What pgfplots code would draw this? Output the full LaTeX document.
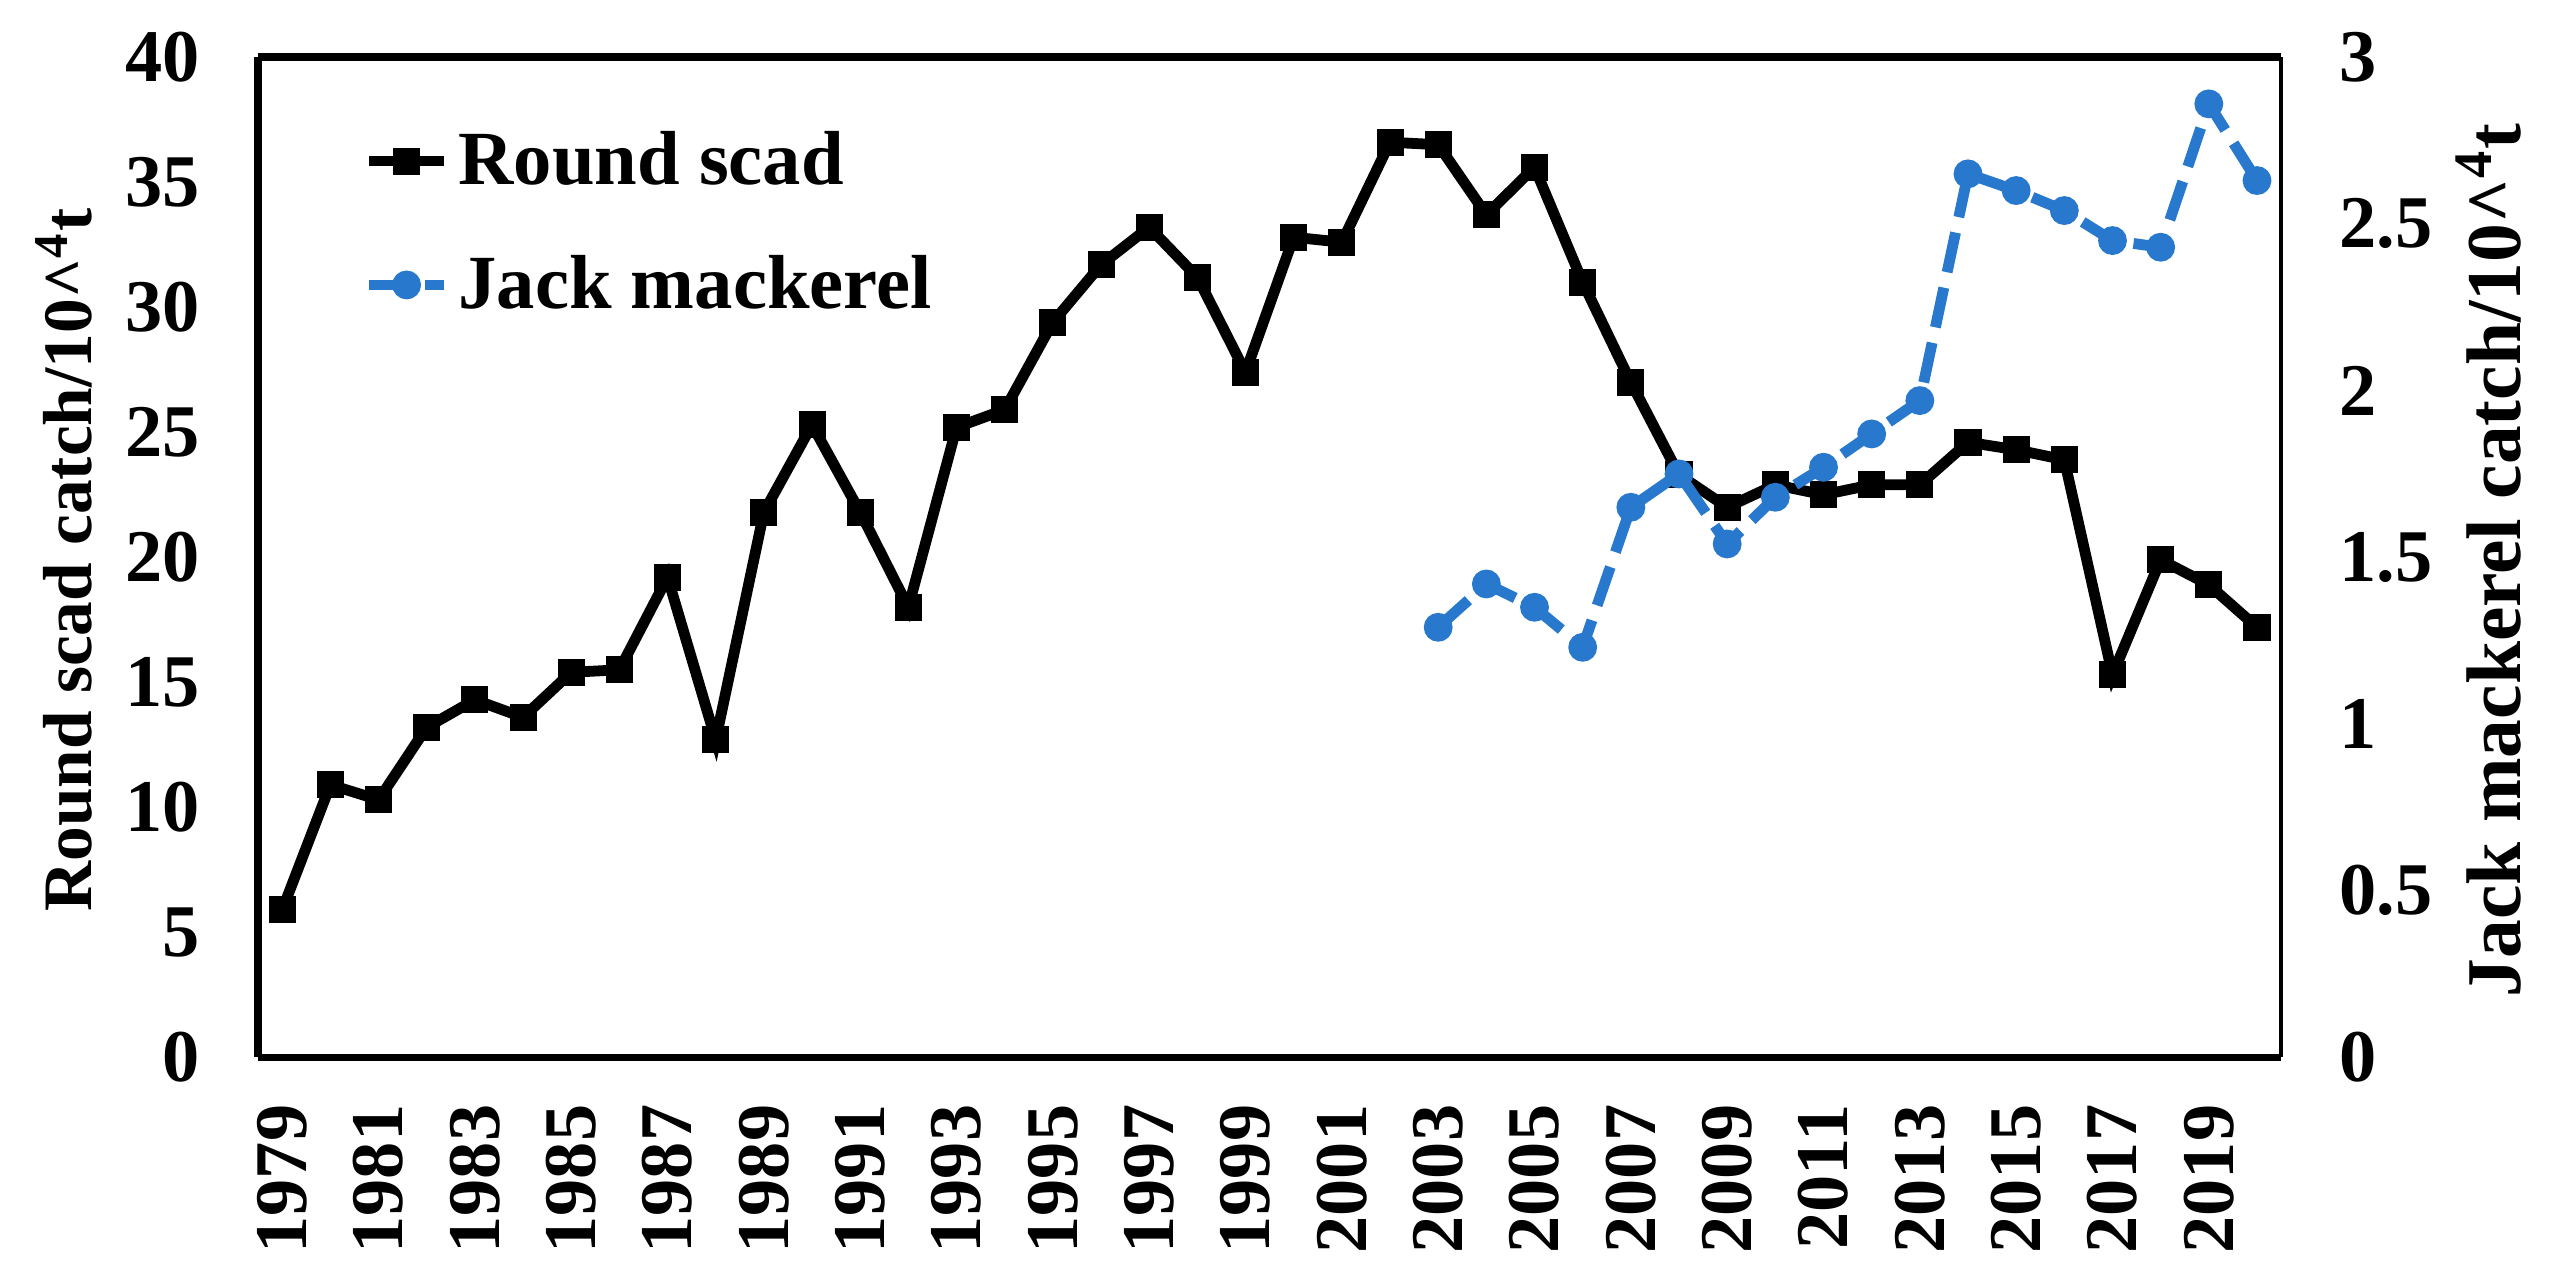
\documentclass[border=0pt]{standalone}
\usepackage{pgfplots}
\pgfplotsset{compat=1.18}
\usepackage{fontspec}
\setmainfont{Liberation Serif}
\definecolor{jackblue}{RGB}{40,120,205}
\pgfplotstableread{
year val
1979 5.9
1980 10.9
1981 10.3
1982 13.2
1983 14.3
1984 13.6
1985 15.4
1986 15.5
1987 19.2
1988 12.7
1989 21.8
1990 25.3
1991 21.8
1992 18.0
1993 25.2
1994 25.9
1995 29.4
1996 31.7
1997 33.2
1998 31.2
1999 27.4
2000 32.8
2001 32.6
2002 36.6
2003 36.5
2004 33.7
2005 35.6
2006 31.0
2007 27.0
2008 23.3
2009 22.0
2010 22.9
2011 22.5
2012 22.9
2013 22.9
2014 24.6
2015 24.3
2016 23.9
2017 15.3
2018 19.9
2019 18.9
2020 17.2
}\roundscad
\pgfplotstableread{
year val
2003 1.29
2004 1.42
2005 1.35
2006 1.23
2007 1.65
2008 1.75
2009 1.54
2010 1.68
2011 1.77
2012 1.87
2013 1.97
2014 2.65
2015 2.60
2016 2.54
2017 2.45
2018 2.43
2019 2.86
2020 2.63
}\jack
\begin{document}
\begin{tikzpicture}
\pgfplotsset{
  common/.style={
    scale only axis, width=449pt, height=222pt,
    xmin=1978.5, xmax=2020.5,
    /pgf/number format/assume math mode=true,
    /pgf/number format/1000 sep={},
    major tick length=0pt,
    tick label style={font=\bfseries\fontsize{16.5}{16.5}\selectfont},
  }
}
\begin{axis}[common, name=ax,
  axis y line*=left, axis x line*=box,
  axis line style={line width=1.7pt},
  ymin=0, ymax=40, ytick={0,5,...,40},
  xtick={1979,1981,...,2019},
  xticklabel style={rotate=90, anchor=east},
  xticklabel shift={7pt},
  yticklabel shift={9.5pt},
  ylabel={Round scad catch/10\textasciicircum\textsuperscript{4}t},
  ylabel style={at={(axis description cs:-0.096,0.497)}, anchor=center, rotate=0,
    font=\bfseries\fontsize{15.4}{15.4}\selectfont},
  legend style={at={(0.045,0.945)}, anchor=north west, draw=none, fill=none,
    font=\bfseries\fontsize{17}{17}\selectfont, row sep=10.2pt,
    legend cell align=left},
  legend image code/.code={
    \draw[#1] (0cm,0cm) -- (16.7pt,0cm);
    \draw[#1, mark repeat=1, mark phase=1] plot coordinates {(8.35pt,0cm)};
  },
]
\addplot[black, line width=2.4pt, mark=square*, mark size=2.7pt, mark options={solid, line width=0.6pt}]
  table[x=year, y=val] {\roundscad};
\addlegendentry{Round scad}
\addlegendimage{jackblue, line width=2.4pt, dash pattern=on 9pt off 3.5pt, mark=*, mark size=2.9pt, mark options={solid, line width=0.6pt}}
\addlegendentry{Jack mackerel}
\end{axis}
\begin{axis}[common,
  axis y line*=right, axis x line=none,
  axis line style={line width=0.9pt},
  ymin=0, ymax=3, ytick={0,0.5,...,3},
  yticklabel style={/pgf/number format/fixed, /pgf/number format/precision=1},
  yticklabel shift={9.5pt},
  ylabel={Jack mackerel catch/10\textasciicircum\textsuperscript{4}t},
  ylabel style={at={(axis description cs:1.1025,0.497)}, anchor=center, rotate=0,
    font=\bfseries\fontsize{17.2}{17.2}\selectfont},
]
\addplot[jackblue, line width=2.4pt, dash pattern=on 9pt off 3.5pt, mark=*, mark size=2.9pt, mark options={solid, line width=0.6pt}]
  table[x=year, y=val] {\jack};
\end{axis}
\pgfresetboundingbox
\path ([shift={(-57.3pt,-50.4pt)}]ax.south west) rectangle ([shift={(62.8pt,12.7pt)}]ax.north east);
\end{tikzpicture}
\end{document}
